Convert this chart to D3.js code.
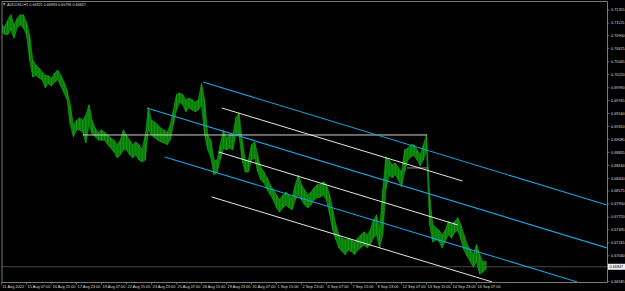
<!DOCTYPE html>
<html>
<head>
<meta charset="utf-8">
<script src="https://d3js.org/d3.v7.min.js"></script>
<style>
  body { margin:0; background:#000; }
  svg { display:block; }
  text { font-family: "Liberation Sans", Arial, sans-serif; fill:#d8d8d8; }
</style>
</head>
<body>
<script>
const width = 625, height = 291;

// H1 bars, one sample every 4 bars: high / low price
const barHigh = [.7109,.7106,.7118,.7127,.7109,.7121,.7127,.7127,.7114,.7092,
  .7048,.7039,.7034,.7027,.7021,.7020,.7016,.7025,.7030,.7021,
  .7009,.6995,.6969,.6934,.6942,.6946,.6942,.6951,.6969,.6942,
  .6928,.6921,.6925,.6921,.6916,.6911,.6907,.6899,.6907,.6925,
  .6916,.6907,.6899,.6904,.6899,.6890,.6916,.6964,.6942,.6939,
  .6934,.6928,.6925,.6921,.6934,.6960,.6987,.6990,.6987,.6978,
  .6981,.6978,.6974,.6978,.7007,.6978,.6916,.6907,.6872,.6872,
  .6899,.6925,.6911,.6916,.6916,.6946,.6955,.6907,.6872,.6872,
  .6899,.6904,.6881,.6859,.6851,.6841,.6829,.6820,.6811,.6802,
  .6811,.6816,.6811,.6806,.6829,.6846,.6829,.6820,.6811,.6816,
  .6823,.6829,.6829,.6834,.6829,.6811,.6785,.6758,.6741,.6735,
  .6732,.6735,.6732,.6728,.6735,.6741,.6746,.6741,.6749,.6767,
  .6776,.6749,.6820,.6878,.6872,.6864,.6867,.6859,.6851,.6890,
  .6893,.6899,.6899,.6890,.6881,.6899,.6916,.6811,.6759,.6754,
  .6749,.6741,.6749,.6764,.6759,.6764,.6771,.6759,.6741,.6724,
  .6715,.6707,.6724,.6707,.6694,.6694];
const barLow = [.7097,.7093,.7092,.7100,.7086,.7104,.7109,.7104,.7092,.7048,
  .7018,.7021,.7016,.7013,.6999,.7006,.7002,.7009,.7013,.7002,
  .6990,.6978,.6934,.6913,.6925,.6925,.6921,.6902,.6934,.6918,
  .6913,.6907,.6907,.6907,.6899,.6893,.6886,.6876,.6881,.6890,
  .6890,.6881,.6876,.6881,.6872,.6869,.6872,.6925,.6916,.6911,
  .6907,.6904,.6902,.6899,.6907,.6934,.6960,.6973,.6969,.6957,
  .6964,.6960,.6957,.6960,.6969,.6916,.6890,.6876,.6846,.6851,
  .6872,.6893,.6890,.6893,.6890,.6916,.6916,.6872,.6851,.6851,
  .6872,.6876,.6851,.6837,.6832,.6820,.6811,.6802,.6788,.6781,
  .6788,.6793,.6788,.6785,.6802,.6811,.6802,.6793,.6788,.6793,
  .6802,.6806,.6807,.6811,.6802,.6776,.6749,.6732,.6718,.6711,
  .6706,.6714,.6711,.6706,.6714,.6718,.6723,.6718,.6723,.6735,
  .6741,.6718,.6741,.6820,.6846,.6841,.6846,.6837,.6825,.6851,
  .6872,.6878,.6880,.6872,.6862,.6872,.6890,.6759,.6728,.6732,
  .6729,.6718,.6729,.6741,.6735,.6745,.6749,.6732,.6714,.6703,
  .6694,.6684,.6694,.6672,.6675,.6680];
const barsPerSample = 4;

// price axis labels
const priceTicks = [0.71355,0.71125,0.70900,0.70675,0.70445,0.70220,0.69990,0.69765,
  0.69540,0.69310,0.69085,0.68855,0.68630,0.68400,0.68175,0.67950,0.67720,0.67495,
  0.67265,0.67040,0.66585];
// time axis labels, one every 32 bars
const timeLabels = ["11 Aug 2022","15 Aug 07:00","16 Aug 15:00","17 Aug 23:00","19 Aug 07:00",
  "22 Aug 15:00","23 Aug 23:00","25 Aug 07:00","26 Aug 15:00","29 Aug 23:00","31 Aug 07:00",
  "1 Sep 15:00","2 Sep 23:00","6 Sep 07:00","7 Sep 15:00","8 Sep 23:00","12 Sep 07:00",
  "13 Sep 15:00","14 Sep 23:00","16 Sep 07:00"];
const barsPerLabel = 32;

// drawn objects: [bar1, price1, bar2, price2]
const blueLines = [
  [258, .70091, 775, .67932],
  [186, .69635, 775, .67178],
  [209, .68775, 737, .66581]
];
const whiteLines = [
  [282, .69635, 590, .68353],
  [278, .68862, 584, .67581],
  [269, .68073, 628, .66581]
];
const levelLines = [
  [104, .69161, 545, .69161, "#cfcfcf"],
  [519, .68582, 546, .68582, "#8a8a8a"]
];
const bid = 0.66847;
const title = "AUDUSD,H1  0.66925 0.66983 0.66796 0.66847";

const plot = { left: 2, right: 607, top: 2, bottom: 282 };

const x = d3.scaleLinear().domain([0, 32]).range([1.5, 26.5]);
const y = d3.scaleLinear().domain([0.66585, 0.71355]).range([281.7, 10]);

const svg = d3.select("body").append("svg")
  .attr("width", width).attr("height", height);

svg.append("rect").attr("width", width).attr("height", height).attr("fill", "#000");

svg.append("defs").append("clipPath").attr("id", "clip")
  .append("rect")
  .attr("x", plot.left).attr("y", plot.top)
  .attr("width", plot.right - plot.left).attr("height", plot.bottom - plot.top);

const g = svg.append("g").attr("clip-path", "url(#clip)");

// bid line
g.append("line")
  .attr("x1", plot.left).attr("x2", plot.right)
  .attr("y1", y(bid)).attr("y2", y(bid))
  .attr("stroke", "#5a5a5a").attr("stroke-width", 0.8);

// price bars
const bars = barHigh.map((h, i) => ({ bar: i * barsPerSample, hi: h, lo: barLow[i] }));
const area = d3.area()
  .x(d => x(d.bar))
  .y0(d => y(d.lo))
  .y1(d => y(d.hi));
g.append("path").datum(bars)
  .attr("d", area)
  .attr("fill", "#0a7a0a")
  .attr("stroke", "#15a015")
  .attr("stroke-width", 0.7);
g.selectAll("line.bar").data(bars).enter().append("line")
  .attr("class", "bar")
  .attr("x1", d => x(d.bar)).attr("x2", d => x(d.bar))
  .attr("y1", d => y(d.hi)).attr("y2", d => y(d.lo))
  .attr("stroke", "#19b019").attr("stroke-width", 0.6);

// level lines
g.selectAll("line.level").data(levelLines).enter().append("line")
  .attr("x1", d => x(d[0])).attr("y1", d => y(d[1]))
  .attr("x2", d => x(d[2])).attr("y2", d => y(d[3]))
  .attr("stroke", d => d[4]).attr("stroke-width", 1);

// channel lines
g.selectAll("line.white").data(whiteLines).enter().append("line")
  .attr("x1", d => x(d[0])).attr("y1", d => y(d[1]))
  .attr("x2", d => x(d[2])).attr("y2", d => y(d[3]))
  .attr("stroke", "#e6e6e6").attr("stroke-width", 1);
g.selectAll("line.blue").data(blueLines).enter().append("line")
  .attr("x1", d => x(d[0])).attr("y1", d => y(d[1]))
  .attr("x2", d => x(d[2])).attr("y2", d => y(d[3]))
  .attr("stroke", "#1aa3e0").attr("stroke-width", 1.1);

// frame
svg.append("path")
  .attr("d", `M${plot.left},${plot.bottom}V1.5H${plot.right + 0.5}V${plot.bottom + 0.5}H${plot.left}`)
  .attr("fill", "none").attr("stroke", "#7a7a7a").attr("stroke-width", 1);

// right price axis
const yAxis = svg.append("g");
priceTicks.forEach(p => {
  yAxis.append("line")
    .attr("x1", plot.right).attr("x2", plot.right + 2.5)
    .attr("y1", y(p)).attr("y2", y(p))
    .attr("stroke", "#9a9a9a").attr("stroke-width", 0.6);
  yAxis.append("text")
    .attr("x", plot.right + 4).attr("y", y(p) + 1.3)
    .attr("font-size", 3.8)
    .text(p.toFixed(5));
});

// bid label
svg.append("rect")
  .attr("x", plot.right + 1).attr("y", y(bid) - 3)
  .attr("width", 17).attr("height", 6)
  .attr("fill", "#f0f0f0");
svg.append("text")
  .attr("x", plot.right + 2.5).attr("y", y(bid) + 1.4)
  .attr("font-size", 3.8).style("fill", "#000")
  .text(bid.toFixed(5));

// time axis
const xAxis = svg.append("g");
timeLabels.forEach((t, i) => {
  const bx = x(i * barsPerLabel);
  xAxis.append("line")
    .attr("x1", bx).attr("x2", bx)
    .attr("y1", plot.bottom).attr("y2", plot.bottom + 2.5)
    .attr("stroke", "#9a9a9a").attr("stroke-width", 0.6);
  xAxis.append("text")
    .attr("x", bx + 1).attr("y", 288)
    .attr("font-size", 3.9)
    .text(t);
});

// title
svg.append("path")
  .attr("d", "M3,3.2L5.4,3.2L4.2,5.4Z")
  .attr("fill", "#cfcfcf");
svg.append("text")
  .attr("x", 7).attr("y", 5.6)
  .attr("font-size", 3.7)
  .text(title);
</script>
</body>
</html>
